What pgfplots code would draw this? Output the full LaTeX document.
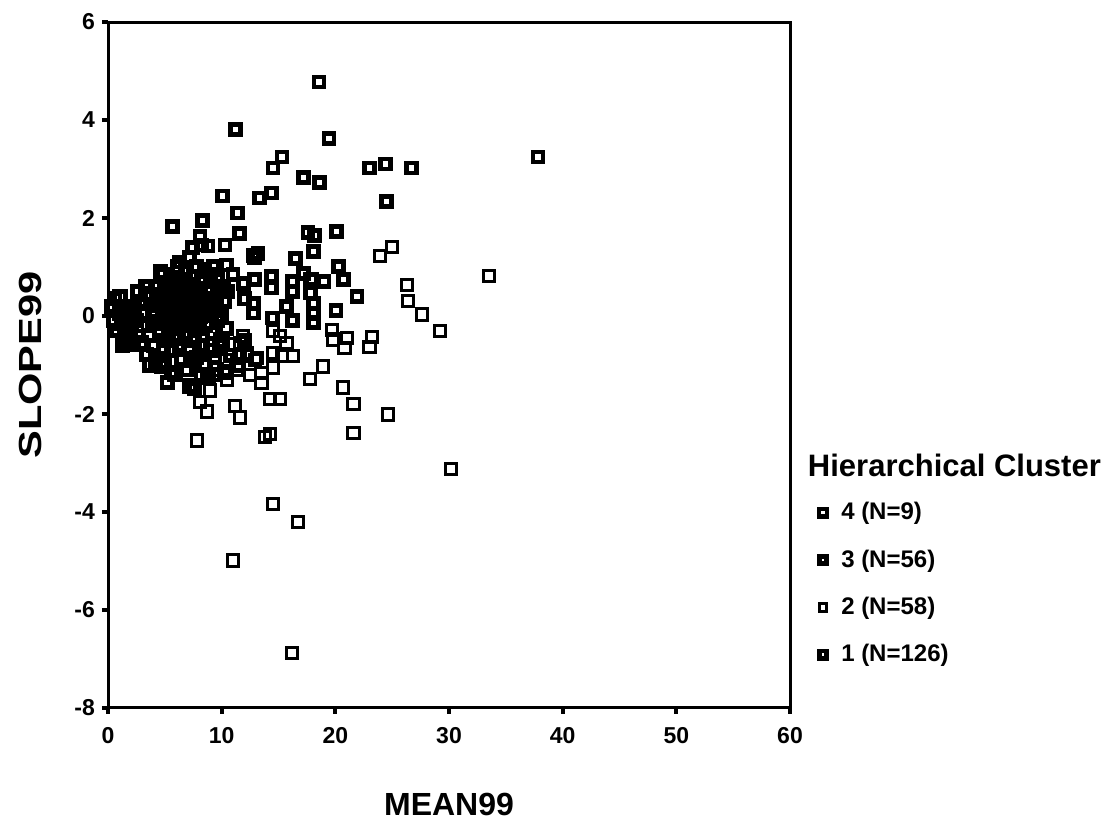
\documentclass[border=0pt]{standalone}
\usepackage{fontspec}
\setmainfont{Liberation Sans}
\usepackage{pgfplots}
\usepackage{pgfplotstable}
\pgfplotsset{compat=1.18}

\pgfplotstableread{
x y
18.56 4.77
11.2 3.81
19.44 3.62
37.85 3.24
15.3 3.25
23.0 3.02
24.4 3.10
26.7 3.02
14.5 3.02
}\clusterfour

\pgfplotstableread{
x y
17.2 2.83
18.6 2.73
10.05 2.45
13.3 2.41
14.4 2.51
11.4 2.10
24.5 2.33
5.7 1.82
8.3 1.95
8.1 1.62
8.2 1.45
11.6 1.68
17.6 1.70
18.2 1.64
20.1 1.73
7.4 1.39
8.8 1.43
10.3 1.45
12.8 1.24
13.2 1.28
12.9 1.20
6.3 1.10
16.5 1.18
18.06 1.31
7.8 1.01
9.3 1.01
10.4 1.04
4.8 0.84
20.3 1.01
20.7 0.75
11.9 0.67
12.9 0.75
14.4 0.81
16.2 0.70
17.2 0.87
17.9 0.74
19.0 0.70
14.4 0.57
16.2 0.50
17.8 0.47
21.9 0.40
20.05 0.12
18.06 0.26
18.06 0.05
18.06 -0.14
12.8 0.26
12.8 0.06
15.7 0.20
14.5 -0.04
16.2 -0.09
8.5 0.95
9.6 0.75
10.2 0.60
7.2 1.20
9.0 0.55
11.0 0.85
}\clusterthree

\pgfplotstableread{
x y
33.5 0.81
26.3 0.64
26.4 0.30
27.6 0.03
29.2 -0.30
23.9 1.22
24.95 1.41
19.7 -0.28
21.0 -0.45
20.8 -0.65
19.8 -0.48
23.2 -0.43
23.0 -0.63
14.5 -0.31
15.1 -0.41
15.7 -0.55
16.3 -0.82
15.3 -0.82
14.5 -0.75
12.9 -0.89
12.2 -0.75
11.6 -0.55
13.5 -1.16
13.5 -1.36
14.5 -1.05
18.9 -1.03
17.8 -1.28
20.7 -1.46
21.6 -1.80
24.65 -2.01
21.6 -2.38
14.25 -1.70
15.1 -1.70
11.2 -1.84
11.6 -2.07
7.8 -2.54
13.8 -2.47
14.25 -2.41
8.1 -1.75
8.7 -1.95
9.0 -1.52
11.0 -4.99
14.5 -3.83
16.7 -4.20
16.2 -6.88
30.2 -3.13
9.6 -1.09
10.4 -0.89
11.3 -1.09
12.2 -0.82
13.1 -0.85
9.85 -0.48
11.0 -0.58
11.9 -0.41
18.9 0.72
17.8 0.75
10.5 -1.30
12.5 -1.20
}\clustertwo

\pgfplotstableread{
x y
0.3 0.2
0.5 -0.1
0.6 0.35
0.8 -0.3
1.0 0.05
1.06 0.40
1.2 -0.15
1.5 -0.24
1.4 0.15
1.8 0.0
2.0 -0.4
2.2 -0.58
2.3 0.2
2.5 -0.1
1.7 -0.5
2.8 0.3
3.0 -0.2
3.2 0.05
3.4 -0.79
3.5 0.45
3.6 -0.4
3.8 0.43
3.9 0.1
4.0 -0.6
4.1 -0.15
4.3 0.3
4.4 0.6
4.5 -0.3
2.9 -0.55
4.2 -0.9
4.7 -1.02
4.8 0.15
5.0 -0.95
5.0 0.5
5.1 -0.5
5.2 -1.36
5.2 0.0
5.3 0.35
5.4 -0.2
5.5 0.7
5.6 -1.16
5.6 -0.7
5.7 0.2
5.8 -0.4
5.9 0.55
5.9 -1.19
6.0 0.0
6.1 -0.25
6.2 0.4
6.3 -0.6
6.3 0.75
6.4 0.1
6.5 -0.9
6.5 -0.1
5.5 0.45
6.0 0.3
5.7 -0.05
6.2 -0.45
6.6 0.55
6.7 0.25
6.8 -0.35
6.9 -1.1
7.0 0.05
7.0 0.65
7.1 -0.65
7.2 -1.43
7.3 0.35
7.4 -0.15
7.5 0.8
7.6 -1.48
7.6 -0.5
7.7 0.15
7.8 -0.85
7.9 0.45
8.0 -0.25
8.1 0.0
8.2 0.7
8.3 -0.6
8.4 0.3
8.5 -1.0
6.8 0.9
7.3 -0.9
8.0 0.55
8.6 -0.2
8.7 0.5
8.8 -1.25
8.9 0.1
9.0 0.85
9.0 -0.7
9.1 0.35
9.2 -0.35
9.4 -0.85
9.5 0.2
9.6 -0.1
9.7 0.6
9.8 -0.6
10.0 0.0
10.1 -0.55
10.2 0.3
10.3 -1.16
10.4 -0.25
10.5 0.5
8.2 -1.2
9.3 -1.2
4.6 0.25
5.3 -0.35
6.6 -0.2
7.2 0.5
5.0 0.1
11.6 -0.8
6.9 0.4
12.0 0.35
7.8 0.2
8.3 0.05
11.5 -1.0
12.0 -0.5
10.8 -0.8
6.0 0.6
4.0 0.0
3.3 0.6
4.6 0.9
2.6 0.5
3.7 -1.0
6.1 1.0
4.9 -0.65
1.3 -0.6
}\clusterone

\begin{document}
\begin{tikzpicture}
\begin{axis}[
  name=ax,
  scale only axis, width=341pt, height=343pt,
  xmin=0, xmax=60, ymin=-8, ymax=6,
  xtick={0,10,...,60}, ytick={-8,-6,...,6},
  axis line style={line width=1.5pt},
  tick align=outside, xtick pos=bottom, ytick pos=left,
  major tick length=3pt, tick style={line width=2pt, black},
  /pgf/number format/assume math mode=true,
  ticklabel style={font=\fontsize{11.5}{13}\selectfont\bfseries},
  xticklabel style={yshift=-3pt},
  xlabel={MEAN99}, ylabel={SLOPE99},
  every axis x label/.style={at={(axis description cs:0.5,-0.141)},anchor=center,
    font=\fontsize{16}{18}\selectfont\bfseries},
  every axis y label/.style={at={(axis description cs:-0.114,0.5)},anchor=center,rotate=90,xscale=1.3,
    font=\fontsize{16}{18}\selectfont\bfseries},
  clip=false,
  legend style={at={(axis description cs:1.009,0.312)}, anchor=north west,
    draw=none, fill=none, font=\fontsize{12}{14}\selectfont\bfseries,
    row sep=9.5pt, cells={anchor=west}},
  legend image code/.code={\draw[#1,mark size=1.9pt] plot coordinates {(0.36cm,0cm)}; \path[draw=none] (0cm,0cm) (0.61cm,0cm);},
]
\addplot[only marks, mark=square, mark size=2.5pt, mark options={line width=2.2pt}] table {\clusterfour};
\addlegendentry{4 (N=9)}
\addplot[only marks, mark=square, mark size=2.5pt, mark options={line width=2.4pt}] table {\clusterthree};
\addlegendentry{3 (N=56)}
\addplot[only marks, mark=square, mark size=2.8pt, mark options={line width=1.5pt}] table {\clustertwo};
\addlegendentry{2 (N=58)}
\addplot[only marks, mark=square, mark size=2.6pt, mark options={line width=2.4pt}] table {\clusterone};
\addlegendentry{1 (N=126)}
\node[anchor=west, font=\fontsize{15.5}{17}\selectfont\bfseries] at (axis description cs:1.016,0.354) {Hierarchical Cluster};
\end{axis}
\pgfresetboundingbox
\path[use as bounding box] ([shift={(-54pt,-57.5pt)}]ax.south west) rectangle ([shift={(504.5pt,354pt)}]ax.south west);
\end{tikzpicture}
\end{document}
